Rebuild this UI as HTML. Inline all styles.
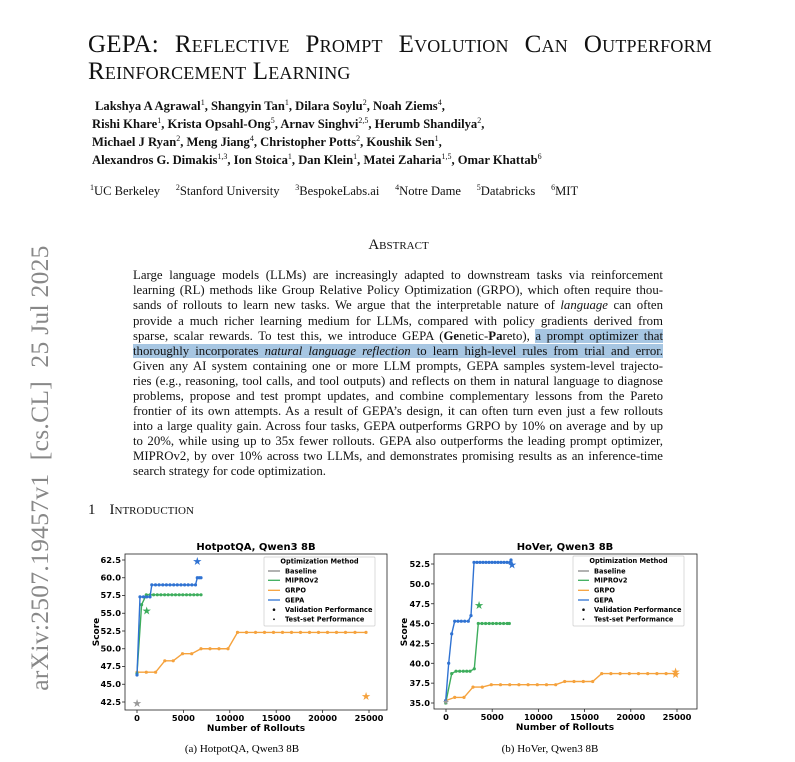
<!DOCTYPE html>
<html><head><meta charset="utf-8"><style>
body{margin:0;width:795px;height:762px;background:#fff;position:relative;overflow:hidden;font-family:"Liberation Serif",serif;color:#111}
.a{position:absolute;white-space:nowrap}
.t{font-size:25px;font-variant:small-caps;letter-spacing:0.2px}
.au{font-size:12.6px;font-weight:bold}
.au sup,.af sup{font-size:8px;font-weight:normal;vertical-align:5px;line-height:0}
.af{font-size:12.6px}
.l{position:absolute;left:133px;width:530px;font-size:12.8px;text-align:justify;text-align-last:justify;white-space:nowrap;line-height:15px}
.hl{background:#a7c6e2}
</style></head><body>
<div class="a t" style="left:88px;top:31px;width:624px;text-align-last:justify;white-space:normal">GEPA: Reflective Prompt Evolution Can Outperform</div>
<div class="a t" style="left:88px;top:58px">Reinforcement Learning</div>

<div class="a au" style="left:95px;top:99px">Lakshya A Agrawal<sup>1</sup>, Shangyin Tan<sup>1</sup>, Dilara Soylu<sup>2</sup>, Noah Ziems<sup>4</sup>,</div>
<div class="a au" style="left:92px;top:117px">Rishi Khare<sup>1</sup>, Krista Opsahl-Ong<sup>5</sup>, Arnav Singhvi<sup>2,5</sup>, Herumb Shandilya<sup>2</sup>,</div>
<div class="a au" style="left:92px;top:135px">Michael J Ryan<sup>2</sup>, Meng Jiang<sup>4</sup>, Christopher Potts<sup>2</sup>, Koushik Sen<sup>1</sup>,</div>
<div class="a au" style="left:92px;top:153px">Alexandros G. Dimakis<sup>1,3</sup>, Ion Stoica<sup>1</sup>, Dan Klein<sup>1</sup>, Matei Zaharia<sup>1,5</sup>, Omar Khattab<sup>6</sup></div>
<div class="a af" style="left:90px;top:184px;word-spacing:0"><sup>1</sup>UC Berkeley &nbsp;&nbsp;&nbsp; <sup>2</sup>Stanford University &nbsp;&nbsp;&nbsp; <sup>3</sup>BespokeLabs.ai &nbsp;&nbsp;&nbsp; <sup>4</sup>Notre Dame &nbsp;&nbsp;&nbsp; <sup>5</sup>Databricks &nbsp;&nbsp;&nbsp; <sup>6</sup>MIT</div>

<div class="a" style="left:0;width:797px;text-align:center;top:237px;font-size:15px;font-variant:small-caps">Abstract</div>

<div class="l" style="top:268px">Large language models (LLMs) are increasingly adapted to downstream tasks via reinforcement</div>
<div class="l" style="top:283px">learning (RL) methods like Group Relative Policy Optimization (GRPO), which often require thou-</div>
<div class="l" style="top:298px">sands of rollouts to learn new tasks. We argue that the interpretable nature of <i>language</i> can often</div>
<div class="l" style="top:314px">provide a much richer learning medium for LLMs, compared with policy gradients derived from</div>
<div class="l" style="top:329px">sparse, scalar rewards. To test this, we introduce GEPA (<b>Ge</b>netic-<b>Pa</b>reto), <span class="hl">a prompt optimizer that</span></div>
<div class="l" style="top:344px"><span class="hl">thoroughly incorporates <i>natural language reflection</i> to learn high-level rules from trial and error.</span></div>
<div class="l" style="top:359px">Given any AI system containing one or more LLM prompts, GEPA samples system-level trajecto-</div>
<div class="l" style="top:374px">ries (e.g., reasoning, tool calls, and tool outputs) and reflects on them in natural language to diagnose</div>
<div class="l" style="top:389px">problems, propose and test prompt updates, and combine complementary lessons from the Pareto</div>
<div class="l" style="top:404px">frontier of its own attempts. As a result of GEPA’s design, it can often turn even just a few rollouts</div>
<div class="l" style="top:419px">into a large quality gain. Across four tasks, GEPA outperforms GRPO by 10% on average and by up</div>
<div class="l" style="top:434px">to 20%, while using up to 35x fewer rollouts. GEPA also outperforms the leading prompt optimizer,</div>
<div class="l" style="top:449px">MIPROv2, by over 10% across two LLMs, and demonstrates promising results as an inference-time</div>
<div class="l" style="top:464px;text-align-last:left">search strategy for code optimization.</div>

<div class="a" style="left:88px;top:502px;font-size:15px"><span style="margin-right:14px">1</span><span style="font-variant:small-caps">Introduction</span></div>

<div class="a" style="left:40px;top:468px;transform:translate(-50%,-50%) rotate(-90deg);font-size:25.5px;color:#888;letter-spacing:0.3px">arXiv:2507.19457v1 &nbsp;[cs.CL] &nbsp;25 Jul 2025</div>

<svg class="a" style="left:0;top:0" width="795" height="762" viewBox="0 0 795 762" font-family="DejaVu Sans, sans-serif">
<defs>
<marker id="mb" markerWidth="4" markerHeight="4" refX="2" refY="2" markerUnits="userSpaceOnUse"><circle cx="2" cy="2" r="1.6" fill="#2f72d2"/></marker>
<marker id="mg" markerWidth="4" markerHeight="4" refX="2" refY="2" markerUnits="userSpaceOnUse"><circle cx="2" cy="2" r="1.6" fill="#3dad5c"/></marker>
<marker id="mo" markerWidth="4" markerHeight="4" refX="2" refY="2" markerUnits="userSpaceOnUse"><circle cx="2" cy="2" r="1.6" fill="#f5a23d"/></marker>
</defs>
<g>
<rect x="125" y="554" width="262" height="156" fill="none" stroke="#222" stroke-width="0.8"/>
<text x="256" y="550" font-size="10" font-weight="bold" text-anchor="middle">HotpotQA, Qwen3 8B</text>
<g font-size="8.3" font-weight="bold" text-anchor="end">
<text x="121" y="705">42.5</text><text x="121" y="687">45.0</text><text x="121" y="669">47.5</text><text x="121" y="651.5">50.0</text><text x="121" y="634">52.5</text><text x="121" y="616">55.0</text><text x="121" y="598">57.5</text><text x="121" y="580.5">60.0</text><text x="121" y="563">62.5</text>
</g>
<g stroke="#222" stroke-width="0.8">
<line x1="122" x2="125" y1="702" y2="702"/><line x1="122" x2="125" y1="684.25" y2="684.25"/><line x1="122" x2="125" y1="666.5" y2="666.5"/><line x1="122" x2="125" y1="648.75" y2="648.75"/><line x1="122" x2="125" y1="631" y2="631"/><line x1="122" x2="125" y1="613.25" y2="613.25"/><line x1="122" x2="125" y1="595.5" y2="595.5"/><line x1="122" x2="125" y1="577.75" y2="577.75"/><line x1="122" x2="125" y1="560" y2="560"/>
<line x1="137" x2="137" y1="710" y2="713"/><line x1="183.4" x2="183.4" y1="710" y2="713"/><line x1="229.8" x2="229.8" y1="710" y2="713"/><line x1="276.2" x2="276.2" y1="710" y2="713"/><line x1="322.6" x2="322.6" y1="710" y2="713"/><line x1="369" x2="369" y1="710" y2="713"/>
</g>
<g font-size="8.3" font-weight="bold" text-anchor="middle">
<text x="137" y="721">0</text><text x="183.4" y="721">5000</text><text x="229.8" y="721">10000</text><text x="276.2" y="721">15000</text><text x="322.6" y="721">20000</text><text x="369" y="721">25000</text>
</g>
<text x="256" y="731" font-size="9" font-weight="bold" text-anchor="middle">Number of Rollouts</text>
<text transform="translate(99,632) rotate(-90)" font-size="9" font-weight="bold" text-anchor="middle">Score</text>
<polyline fill="none" stroke="#f5a23d" stroke-width="1.4" marker-start="url(#mo)" marker-mid="url(#mo)" marker-end="url(#mo)" points="137,672.2 146.3,672.2 155.6,672.2 164.8,660.8 173.2,660.8 182.5,653.7 191.7,653.7 201,648.75 210,648.75 219,648.75 228,648.75 237.5,632.4 246.5,632.4 255.5,632.4 264.5,632.4 273.5,632.4 282.5,632.4 291.5,632.4 300.5,632.4 309.5,632.4 318.5,632.4 327.5,632.4 336.5,632.4 345.5,632.4 355,632.4 366,632.4"/>
<polyline fill="none" stroke="#3dad5c" stroke-width="1.4" marker-start="url(#mg)" marker-mid="url(#mg)" marker-end="url(#mg)" points="137,673.6 141.6,604.7 146.3,594.8 150,594.8 153.6,594.8 157.3,594.8 160.9,594.8 164.6,594.8 168.2,594.8 171.9,594.8 175.5,594.8 179.2,594.8 182.8,594.8 186.5,594.8 190.1,594.8 193.8,594.8 197.4,594.8 201,594.8"/>
<polyline fill="none" stroke="#2f72d2" stroke-width="1.4" marker-start="url(#mb)" marker-mid="url(#mb)" marker-end="url(#mb)" points="137,675 140,596.9 143.5,596.9 146.7,596.9 150,596.9 151.8,584.9 155.5,584.9 159.1,584.9 162.8,584.9 166.4,584.9 170,584.9 173.7,584.9 177.3,584.9 181,584.9 184.6,584.9 188.2,584.9 191.9,584.9 195.5,584.9 197.3,577.75 199.2,577.75 201,577.75"/>
<g font-size="11" text-anchor="middle" dominant-baseline="central">
<text x="197.3" y="561.4" fill="#2f72d2">★</text>
<text x="146.7" y="611.1" fill="#3dad5c">★</text>
<text x="366" y="696.3" fill="#f5a23d">★</text>
<text x="137" y="703.4" fill="#999">★</text>
</g>
<rect x="264" y="557" width="111" height="69" fill="#fff" stroke="#ccc" stroke-width="0.7" rx="1"/>
<g font-size="6.6" font-weight="bold">
<text x="319.5" y="563.5" text-anchor="middle">Optimization Method</text>
<line x1="268" x2="280" y1="571" y2="571" stroke="#888" stroke-width="1.3"/><text x="285" y="573.3">Baseline</text>
<line x1="268" x2="280" y1="580.3" y2="580.3" stroke="#3dad5c" stroke-width="1.3"/><text x="285" y="582.6">MIPROv2</text>
<line x1="268" x2="280" y1="590.3" y2="590.3" stroke="#f5a23d" stroke-width="1.3"/><text x="285" y="592.6">GRPO</text>
<line x1="268" x2="280" y1="600" y2="600" stroke="#2f72d2" stroke-width="1.3"/><text x="285" y="602.3">GEPA</text>
<circle cx="274" cy="609.7" r="1.3" fill="#111"/><text x="285" y="612">Validation Performance</text>
<circle cx="274" cy="619.3" r="0.9" fill="#111"/><text x="285" y="621.6">Test-set Performance</text>
</g>
</g>
<g>
<rect x="434" y="554" width="263" height="155" fill="none" stroke="#222" stroke-width="0.8"/>
<text x="565" y="550" font-size="10" font-weight="bold" text-anchor="middle">HoVer, Qwen3 8B</text>
<g font-size="8.3" font-weight="bold" text-anchor="end">
<text x="430" y="706">35.0</text><text x="430" y="686">37.5</text><text x="430" y="666.3">40.0</text><text x="430" y="646.5">42.5</text><text x="430" y="626.6">45.0</text><text x="430" y="606.8">47.5</text><text x="430" y="587">50.0</text><text x="430" y="567">52.5</text>
</g>
<g stroke="#222" stroke-width="0.8">
<line x1="431" x2="434" y1="703" y2="703"/><line x1="431" x2="434" y1="683.15" y2="683.15"/><line x1="431" x2="434" y1="663.3" y2="663.3"/><line x1="431" x2="434" y1="643.45" y2="643.45"/><line x1="431" x2="434" y1="623.6" y2="623.6"/><line x1="431" x2="434" y1="603.75" y2="603.75"/><line x1="431" x2="434" y1="583.9" y2="583.9"/><line x1="431" x2="434" y1="564" y2="564"/>
<line x1="446" x2="446" y1="709" y2="712"/><line x1="492.2" x2="492.2" y1="709" y2="712"/><line x1="538.4" x2="538.4" y1="709" y2="712"/><line x1="584.6" x2="584.6" y1="709" y2="712"/><line x1="630.8" x2="630.8" y1="709" y2="712"/><line x1="677" x2="677" y1="709" y2="712"/>
</g>
<g font-size="8.3" font-weight="bold" text-anchor="middle">
<text x="446" y="720">0</text><text x="492.2" y="720">5000</text><text x="538.4" y="720">10000</text><text x="584.6" y="720">15000</text><text x="630.8" y="720">20000</text><text x="677" y="720">25000</text>
</g>
<text x="565" y="730" font-size="9" font-weight="bold" text-anchor="middle">Number of Rollouts</text>
<text transform="translate(407,632) rotate(-90)" font-size="9" font-weight="bold" text-anchor="middle">Score</text>
<polyline fill="none" stroke="#f5a23d" stroke-width="1.4" marker-start="url(#mo)" marker-mid="url(#mo)" marker-end="url(#mo)" points="445.7,700.6 454.7,697.4 464,697.4 473,687.1 482.3,687.1 491.3,684.7 500.5,684.7 509.7,684.7 518.9,684.7 528.1,684.7 537.3,684.7 546.5,684.7 555.7,684.7 564.7,681.5 574,681.5 583.3,681.5 592.7,681.5 601.7,673.6 610.9,673.6 620.1,673.6 629.3,673.6 638.5,673.6 647.7,673.6 656.9,673.6 666.1,673.6 675.3,673.6"/>
<polyline fill="none" stroke="#3dad5c" stroke-width="1.4" marker-start="url(#mg)" marker-mid="url(#mg)" marker-end="url(#mg)" points="445.7,703 451.7,673.6 456,671.2 459.7,671.2 463.3,671.2 466.7,671.2 470,671.2 474.3,668.8 478.3,623.5 482,623.5 485.6,623.5 489.2,623.5 492.8,623.5 496.4,623.5 500,623.5 503.6,623.5 507.2,623.5 509.3,623.5"/>
<polyline fill="none" stroke="#2f72d2" stroke-width="1.4" marker-start="url(#mb)" marker-mid="url(#mb)" marker-end="url(#mb)" points="445.7,700.6 448.7,663.25 451.7,633.9 454.7,621.2 458,621.2 461.3,621.2 464.7,621.2 468.3,621.2 471,615.6 474,562.4 477,562.4 480,562.4 483,562.4 486,562.4 489,562.4 492,562.4 495,562.4 498,562.4 501,562.4 504,562.4 507,562.4 510,562.4 511,560"/>
<g font-size="11" text-anchor="middle" dominant-baseline="central">
<text x="512" y="564.8" fill="#2f72d2">★</text>
<text x="479" y="605.3" fill="#3dad5c">★</text>
<text x="675.5" y="672" fill="#f5a23d">★</text>
<text x="675.5" y="674.4" fill="#f5a23d">★</text>
<text x="446" y="702" fill="#999" font-size="8">★</text>
</g>
<rect x="573" y="556" width="111" height="70" fill="#fff" stroke="#ccc" stroke-width="0.7" rx="1"/>
<g font-size="6.6" font-weight="bold">
<text x="628.5" y="563" text-anchor="middle">Optimization Method</text>
<line x1="578" x2="589" y1="571" y2="571" stroke="#888" stroke-width="1.3"/><text x="594" y="573.3">Baseline</text>
<line x1="578" x2="589" y1="580.3" y2="580.3" stroke="#3dad5c" stroke-width="1.3"/><text x="594" y="582.6">MIPROv2</text>
<line x1="578" x2="589" y1="590.3" y2="590.3" stroke="#f5a23d" stroke-width="1.3"/><text x="594" y="592.6">GRPO</text>
<line x1="578" x2="589" y1="600" y2="600" stroke="#2f72d2" stroke-width="1.3"/><text x="594" y="602.3">GEPA</text>
<circle cx="583.5" cy="609.7" r="1.3" fill="#111"/><text x="594" y="612">Validation Performance</text>
<circle cx="583.5" cy="619.3" r="0.9" fill="#111"/><text x="594" y="621.6">Test-set Performance</text>
</g>
</g>
<g font-family="Liberation Serif, serif" font-size="11" text-anchor="middle">
<text x="242" y="752">(a) HotpotQA, Qwen3 8B</text>
<text x="550" y="752">(b) HoVer, Qwen3 8B</text>
</g>
</svg>
</body></html>
